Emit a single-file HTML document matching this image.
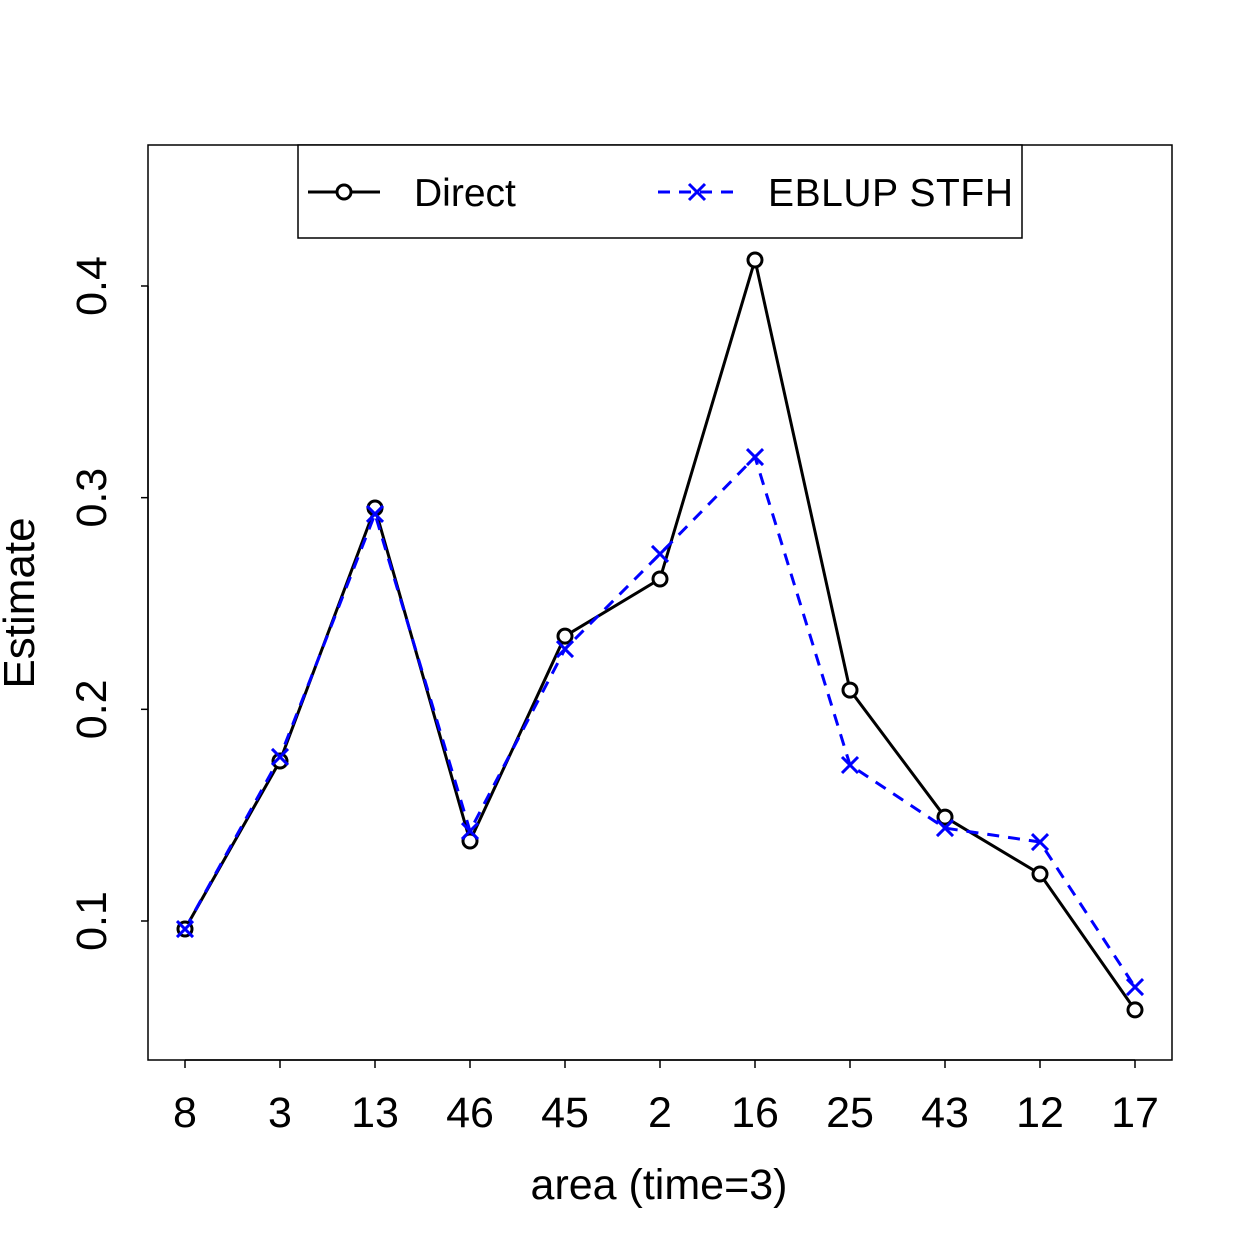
<!DOCTYPE html>
<html><head><meta charset="utf-8"><style>
html,body{margin:0;padding:0;background:#fff}
svg{display:block;font-family:"Liberation Sans",sans-serif}
</style></head><body>
<svg id="chart" width="1248" height="1245" viewBox="0 0 1248 1245" xmlns="http://www.w3.org/2000/svg">
<rect x="148" y="145" width="1024" height="915" fill="none" stroke="#000" stroke-width="1.5"/>
<g id="yaxis"></g>
<g id="xaxis"></g>
<g id="series"></g>
<text x="659" y="1199" font-size="43" text-anchor="middle">area (time=3)</text>
<text transform="translate(34,603) rotate(-90)" font-size="44" text-anchor="middle">Estimate</text>
<g>
<rect x="298" y="145" width="724" height="93" fill="#fff" stroke="#000" stroke-width="1.5"/>
<g>
<line x1="308" y1="192" x2="380" y2="192" stroke="#000" stroke-width="3"/>
<circle cx="344" cy="192" r="7" fill="#fff" stroke="#000" stroke-width="3"/>
<text x="414" y="206" font-size="39">Direct</text>
</g>
<g>
<line x1="658" y1="192" x2="735" y2="192" stroke="#00f" stroke-width="3" stroke-dasharray="12,9"/>
<path d="M689 184 L705 200 M705 184 L689 200" stroke="#00f" stroke-width="3"/>
<text x="768" y="206" font-size="39" textLength="245">EBLUP STFH</text>
</g>
</g>
</svg>
<script>
const categories = ["8","3","13","46","45","2","16","25","43","12","17"];
const directValues = [0.0962,0.1756,0.2951,0.1378,0.2346,0.2616,0.4123,0.2091,0.1491,0.1222,0.0580];
const eblupValues = [0.0962,0.1775,0.2923,0.1425,0.2285,0.2734,0.3192,0.1737,0.1439,0.1373,0.0688];
const yTicks = [0.1,0.2,0.3,0.4];
const NS="http://www.w3.org/2000/svg";
function xPos(i){return 185+95*i;}
function yPos(v){return 921-(v-0.1)*2116.7;}
function mk(tag,attrs,parent){const e=document.createElementNS(NS,tag);for(const k in attrs)e.setAttribute(k,attrs[k]);parent.appendChild(e);return e;}
const ya=document.getElementById('yaxis'),xa=document.getElementById('xaxis'),sg=document.getElementById('series');
mk('line',{x1:148,x2:148,y1:yPos(yTicks[0]),y2:yPos(yTicks[yTicks.length-1]),stroke:'#000','stroke-width':1.5},ya);
yTicks.forEach(t=>{
  const y=yPos(t);
  const l=mk('line',{x1:141,x2:148,y1:y,y2:y,stroke:'#000','stroke-width':1.5},ya);
  
  
  const tx=mk('text',{transform:`translate(106,${y}) rotate(-90)`,'font-size':43,'text-anchor':'middle'},ya);
  tx.textContent=t.toFixed(1);
  
  
});
mk('line',{x1:xPos(0),x2:xPos(categories.length-1),y1:1060,y2:1060,stroke:'#000','stroke-width':1.5},xa);
categories.forEach((c,i)=>{
  const x=xPos(i);
  const l=mk('line',{x1:x,x2:x,y1:1060,y2:1068,stroke:'#000','stroke-width':1.5},xa);
  
  
  const tx=mk('text',{x:x,y:1127,'font-size':43,'text-anchor':'middle'},xa);
  tx.textContent=c;
  
  
});
const dl=mk('polyline',{points:directValues.map((v,i)=>xPos(i)+','+yPos(v)).join(' '),fill:'none',stroke:'#000','stroke-width':3},sg);


const el=mk('polyline',{points:eblupValues.map((v,i)=>xPos(i)+','+yPos(v)).join(' '),fill:'none',stroke:'#00f','stroke-width':3,'stroke-dasharray':'12,9'},sg);


directValues.forEach((v,i)=>{
  const c=mk('circle',{cx:xPos(i),cy:yPos(v),r:7,fill:'#fff',stroke:'#000','stroke-width':3},sg);
  
  
});
eblupValues.forEach((v,i)=>{
  const x=xPos(i),y=yPos(v);
  const p=mk('path',{d:`M${x-8} ${y-8} L${x+8} ${y+8} M${x+8} ${y-8} L${x-8} ${y+8}`,stroke:'#00f','stroke-width':3},sg);
  
  
});
</script>
</body></html>
